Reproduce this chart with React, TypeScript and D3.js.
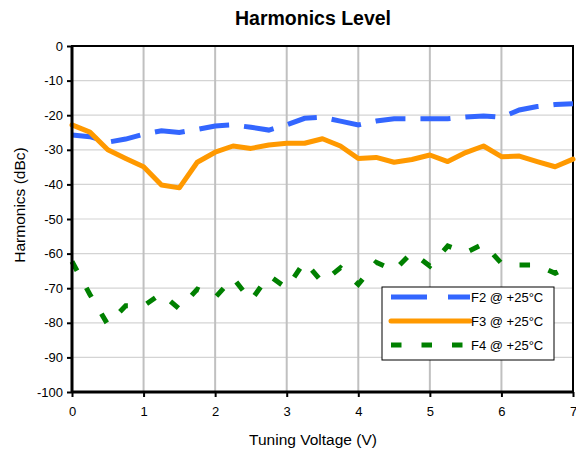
import React, { useEffect, useRef } from 'react';
import * as d3 from 'd3';

const voltage = [
  0, 0.25, 0.5, 0.75, 1, 1.25, 1.5, 1.75, 2, 2.25, 2.5, 2.75, 3, 3.25, 3.5,
  3.75, 4, 4.25, 4.5, 4.75, 5, 5.25, 5.5, 5.75, 6, 6.25, 6.5, 6.75, 7,
];
const f2 = [
  -25.7, -26.2, -27.8, -26.9, -25.5, -24.5, -25, -24.1, -23.1, -22.8, -23.5,
  -24.3, -22.8, -20.9, -20.6, -21.7, -22.8, -21.7, -21, -21, -21, -21, -20.5,
  -20.2, -20.6, -18.5, -17.5, -16.9, -16.7,
];
const f3 = [
  -22.8, -24.9, -30, -32.5, -34.9, -40.2, -41, -33.6, -30.7, -28.9, -29.6,
  -28.6, -28.1, -28.1, -26.8, -28.9, -32.5, -32.2, -33.6, -32.8, -31.5, -33.4,
  -30.8, -28.9, -32, -31.8, -33.4, -34.9, -32.7,
];
const f4 = [
  -62.3, -71.8, -80.5, -75.1, -75.1, -71.5, -76, -70.3, -72.7, -67, -73.6,
  -66.3, -70, -62.3, -68.3, -64.1, -68.9, -62.5, -64.9, -59.7, -63.6, -57.8,
  -59.7, -57.2, -62.8, -63.3, -63.3, -65.7, -63.1,
];
const xTicks = [0, 1, 2, 3, 4, 5, 6, 7];
const yTicks = [0, -10, -20, -30, -40, -50, -60, -70, -80, -90, -100];

const seriesList = [
  { name: 'F2 @ +25°C', values: f2, color: '#3366ff', dash: '30 15', offset: 5, legendDash: '36 21', cap: 'butt' },
  { name: 'F3 @ +25°C', values: f3, color: '#ff9900', dash: null, offset: 0, legendDash: null, cap: 'round' },
  { name: 'F4 @ +25°C', values: f4, color: '#008000', dash: '10.5 19.5', offset: 0, legendDash: '10.5 20', cap: 'butt' },
];

const font = 'Arial, "Liberation Sans", sans-serif';

const App: React.FC = () => {
  const ref = useRef<SVGSVGElement | null>(null);

  useEffect(() => {
    if (!ref.current) return;
    const margin = { top: 46, left: 72 };
    const width = 501;
    const height = 346;

    const root = d3.select(ref.current);
    root.selectAll('*').remove();

    const x = d3.scaleLinear().domain([0, 7]).range([0, width]);
    const y = d3.scaleLinear().domain([-100, 0]).range([height, 0]);

    root.append('text')
      .attr('x', 313).attr('y', 25)
      .attr('text-anchor', 'middle')
      .style('font-family', font).style('font-size', '19.5px').style('font-weight', 'bold')
      .text('Harmonics Level');

    const g = root.append('g').attr('transform', `translate(${margin.left},${margin.top})`);

    // grid
    g.selectAll('.hgrid').data(yTicks.filter(t => t !== 0 && t !== -100)).enter().append('line')
      .attr('x1', 0).attr('x2', width)
      .attr('y1', d => y(d)).attr('y2', d => y(d))
      .attr('stroke', '#d4d4d4').attr('stroke-width', 1.2);
    g.selectAll('.vgrid').data(xTicks.filter(t => t !== 0 && t !== 7)).enter().append('line')
      .attr('x1', d => x(d)).attr('x2', d => x(d))
      .attr('y1', 0).attr('y2', height)
      .attr('stroke', '#c0c0c0').attr('stroke-width', 2);

    // frame
    g.append('rect').attr('x', 0).attr('y', 0).attr('width', width).attr('height', height)
      .attr('fill', 'none').attr('stroke', '#000').attr('stroke-width', 2);

    // series
    const line = d3.line<number>()
      .x((_, i) => x(voltage[i]))
      .y(d => y(d));

    seriesList.forEach(s => {
      const p = g.append('path')
        .datum(s.values)
        .attr('d', line)
        .attr('fill', 'none')
        .attr('stroke', s.color)
        .attr('stroke-width', 5)
        .attr('stroke-linejoin', s.cap === 'round' ? 'round' : 'miter')
        .attr('stroke-linecap', s.cap);
      if (s.dash) p.attr('stroke-dasharray', s.dash).attr('stroke-dashoffset', s.offset);
    });

    // axes
    const yAxis = g.append('g')
      .call(d3.axisLeft(y).tickValues(yTicks).tickSize(5).tickPadding(4).tickFormat(d => `${d}`));
    yAxis.select('.domain').attr('stroke-width', 3).attr('d', `M0,0V${height}`);
    yAxis.selectAll('.tick line').attr('stroke-width', 2);
    yAxis.selectAll('text').style('font-family', font).style('font-size', '13px').attr('fill', '#000');

    const xAxis = g.append('g')
      .attr('transform', `translate(0,${height})`)
      .call(d3.axisBottom(x).tickValues(xTicks).tickSize(5).tickPadding(10).tickFormat(d => `${d}`));
    xAxis.select('.domain').attr('stroke-width', 3).attr('d', `M0,0H${width}`);
    xAxis.selectAll('.tick line').attr('stroke-width', 2);
    xAxis.selectAll('text').style('font-family', font).style('font-size', '13px').attr('fill', '#000');

    root.append('text')
      .attr('x', 313).attr('y', 445)
      .attr('text-anchor', 'middle')
      .style('font-family', font).style('font-size', '15.5px')
      .text('Tuning Voltage (V)');

    root.append('text')
      .attr('transform', 'translate(24.5,205) rotate(-90)')
      .attr('text-anchor', 'middle')
      .style('font-family', font).style('font-size', '15.5px')
      .text('Harmonics (dBc)');

    // legend
    const lg = root.append('g').attr('transform', 'translate(382,287)');
    lg.append('rect').attr('width', 172).attr('height', 73)
      .attr('fill', '#fff').attr('stroke', '#000').attr('stroke-width', 1);
    const rows = [10, 34, 58];
    seriesList.forEach((s, i) => {
      const ln = lg.append('line')
        .attr('x1', 9).attr('x2', 88)
        .attr('y1', rows[i]).attr('y2', rows[i])
        .attr('stroke', s.color).attr('stroke-width', 5)
        .attr('stroke-linecap', s.cap);
      if (s.legendDash) ln.attr('stroke-dasharray', s.legendDash);
      lg.append('text')
        .attr('x', 89).attr('y', rows[i])
        .attr('dy', '0.36em')
        .style('font-family', font).style('font-size', '13px')
        .text(s.name);
    });
  }, []);

  return <svg ref={ref} width={576} height={452} style={{ position: 'absolute', left: 0, top: 0 }} />;
};

export default App;
